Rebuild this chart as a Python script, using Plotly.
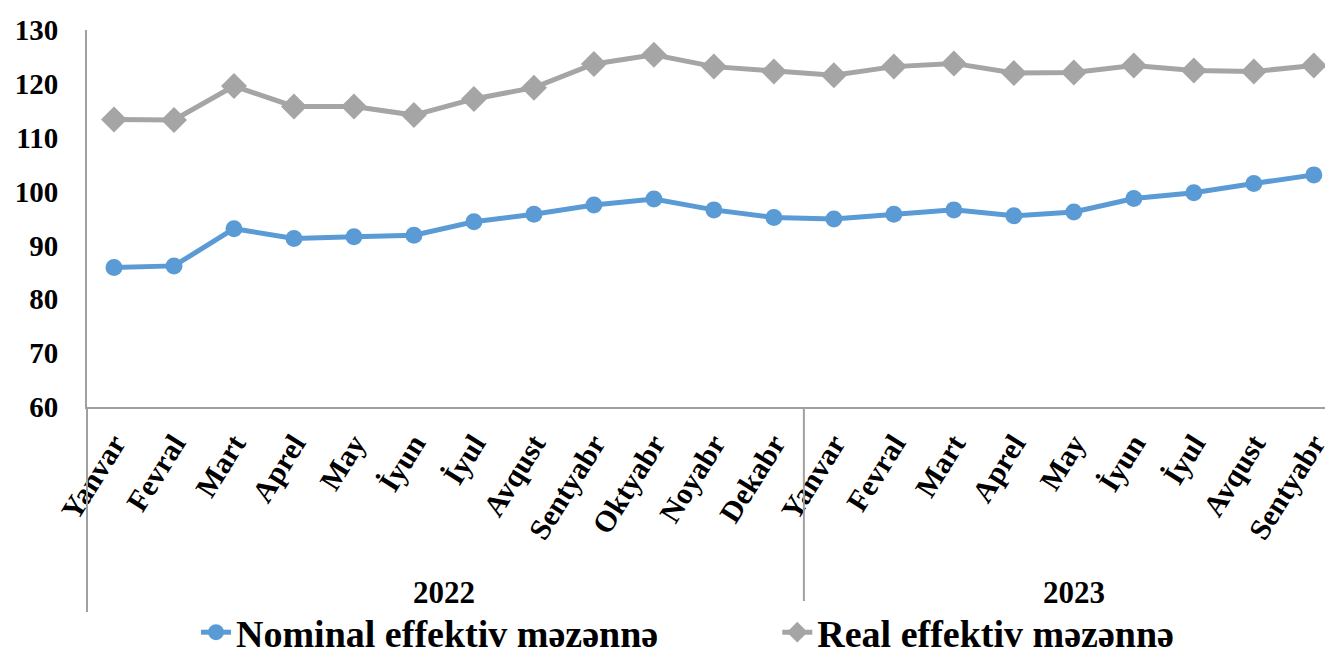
import plotly.graph_objects as go

# month labels (Azerbaijani), 2022 full year + 2023 Jan-Sep
months = ["Yanvar", "Fevral", "Mart", "Aprel", "May", "İyun", "İyul", "Avqust",
          "Sentyabr", "Oktyabr", "Noyabr", "Dekabr",
          "Yanvar", "Fevral", "Mart", "Aprel", "May", "İyun", "İyul", "Avqust",
          "Sentyabr"]
years = ["2022", "2023"]
year_counts = [12, 9]

nominal = [85.9, 86.2, 93.1, 91.3, 91.6, 91.9, 94.4, 95.8, 97.5, 98.6, 96.6, 95.2,
           94.9, 95.8, 96.6, 95.5, 96.2, 98.7, 99.8, 101.5, 103.1]
real = [113.4, 113.3, 119.6, 115.8, 115.8, 114.2, 117.2, 119.3, 123.7, 125.4, 123.2, 122.3,
        121.6, 123.2, 123.8, 122.0, 122.1, 123.4, 122.5, 122.3, 123.4]

x = list(range(len(months)))
font_name = "Liberation Serif"
axis_grey = "#a0a0a0"

fig = go.Figure()

fig.add_trace(go.Scatter(
    x=x, y=nominal, name="Nominal effektiv məzənnə",
    mode="lines+markers",
    line=dict(color="#5b9bd5", width=5),
    marker=dict(symbol="circle", size=17, color="#5b9bd5"),
    legend="legend",
))
fig.add_trace(go.Scatter(
    x=x, y=real, name="Real effektiv məzənnə",
    mode="lines+markers",
    line=dict(color="#a5a5a5", width=5),
    marker=dict(symbol="diamond", size=20, color="#a5a5a5"),
    legend="legend2",
))

legend_font = dict(size=38, family=font_name, weight="bold")

# page body adds 8px on top/left, so the figure is 8px smaller
fig.update_layout(
    width=1325,
    height=656,
    margin=dict(l=79, r=0, t=22, b=257),
    plot_bgcolor="white",
    paper_bgcolor="white",
    font=dict(family=font_name, color="black", size=30, weight="bold"),
    showlegend=True,
    legend=dict(
        orientation="h",
        x=0.0875, xanchor="left",
        y=-0.683, yanchor="bottom",
        font=legend_font,
    ),
    legend2=dict(
        orientation="h",
        x=0.554, xanchor="left",
        y=-0.683, yanchor="bottom",
        font=legend_font,
    ),
)

fig.update_yaxes(
    range=[60, 130],
    dtick=10,
    showgrid=False,
    zeroline=False,
    showline=True,
    linecolor=axis_grey,
    linewidth=2,
    ticks="outside",
    ticklen=21,
    tickcolor="rgba(0,0,0,0)",
    tickfont=dict(size=29, family=font_name, weight="bold"),
    automargin=False,
)

fig.update_xaxes(
    range=[-0.45, 20.32],
    tickmode="array",
    tickvals=x,
    ticktext=months,
    tickangle=-58,
    showgrid=False,
    zeroline=False,
    showline=True,
    linecolor=axis_grey,
    linewidth=2,
    ticks="outside",
    ticklen=5,
    tickcolor="rgba(0,0,0,0)",
    tickfont=dict(size=30, family=font_name, weight="bold"),
    automargin=False,
)

# left line and year divider extending below the axis
fig.add_shape(type="line", xref="paper", yref="paper", x0=0, x1=0, y0=0, y1=-0.544,
              line=dict(color=axis_grey, width=2))
start = 0
for yr, n in zip(years, year_counts):
    end = start + n
    if end < len(months):
        fig.add_shape(type="line", xref="x", yref="paper", x0=end - 0.5, x1=end - 0.5,
                      y0=0, y1=-0.544, line=dict(color=axis_grey, width=2))
    fig.add_annotation(x=(start + end - 1) / 2, y=-0.491, xref="x", yref="paper",
                       text=yr, showarrow=False, yanchor="middle",
                       font=dict(size=31, family=font_name, weight="bold"))
    start = end

fig.write_html("out.html")
